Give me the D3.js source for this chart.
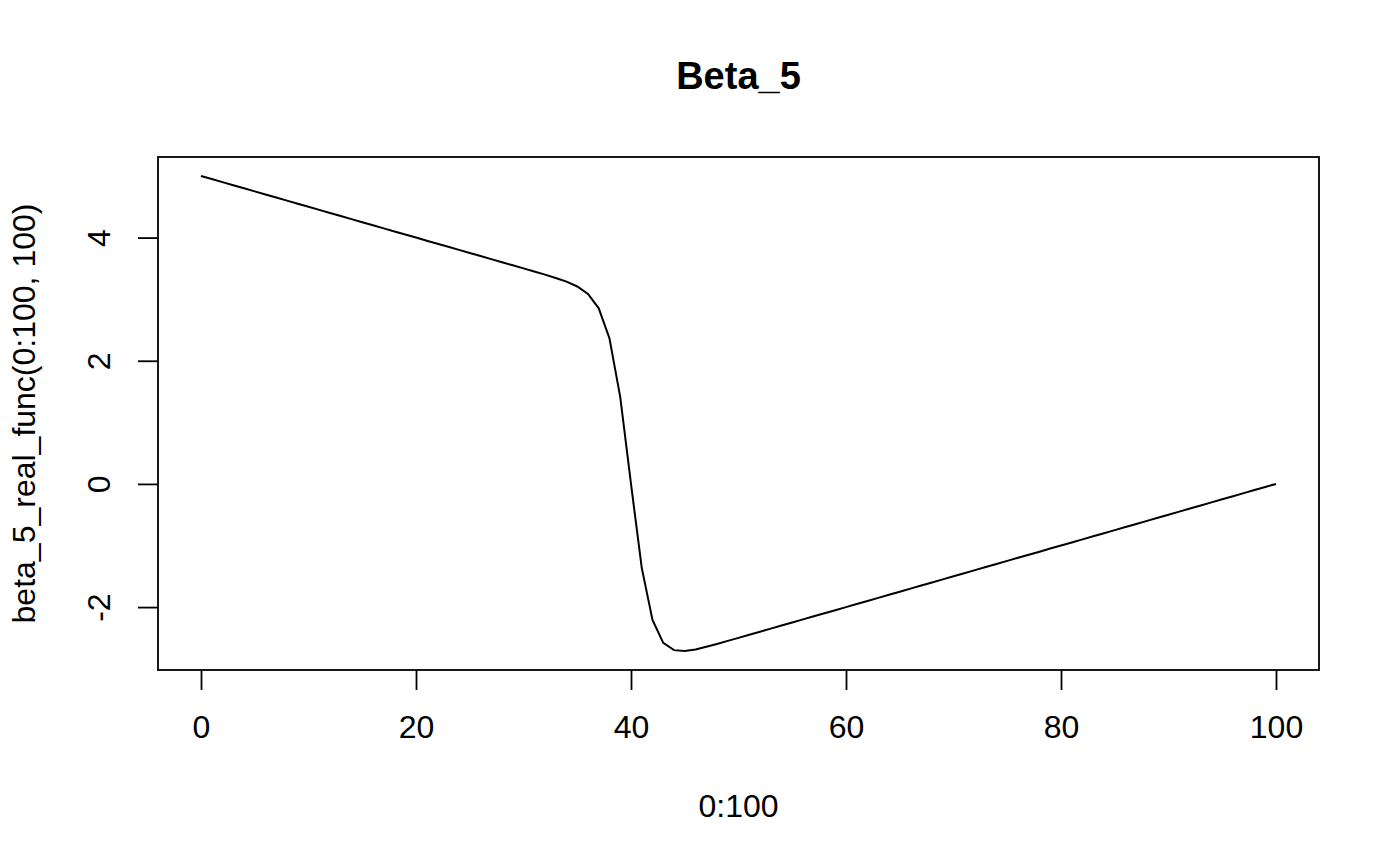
<!DOCTYPE html>
<html>
<head>
<meta charset="utf-8">
<script src="https://cdn.jsdelivr.net/npm/d3@7"></script>
<style>
  body { margin: 0; background: #fff; }
  svg text { font-family: "Liberation Sans", Arial, sans-serif; fill: #000; }
</style>
</head>
<body>
<div id="chart"></div>
<script>
//Chart Texts
let chartTitle = "Beta_5";
let xLabel = "0:100";
let yLabel = "beta_5_real_func(0:100, 100)";

//Tick Values of the Axes
let xTicks = [0, 20, 40, 60, 80, 100];
let yTicks = [-2, 0, 2, 4];

//Values of the Curve at x = 0, 1, ..., 100
let yValues = [
  5.00, 4.95, 4.90, 4.85, 4.80, 4.75, 4.70, 4.65, 4.60, 4.55,
  4.50, 4.45, 4.40, 4.35, 4.30, 4.25, 4.20, 4.15, 4.10, 4.05,
  4.00, 3.95, 3.90, 3.85, 3.80, 3.75, 3.70, 3.65, 3.60, 3.55,
  3.50, 3.449, 3.398, 3.344, 3.284, 3.206, 3.085, 2.851, 2.361, 1.410,
  0.000, -1.363, -2.209, -2.580, -2.699, -2.713, -2.687, -2.645, -2.598, -2.549,
  -2.500, -2.45, -2.40, -2.35, -2.30, -2.25, -2.20, -2.15, -2.10, -2.05,
  -2.00, -1.95, -1.90, -1.85, -1.80, -1.75, -1.70, -1.65, -1.60, -1.55,
  -1.50, -1.45, -1.40, -1.35, -1.30, -1.25, -1.20, -1.15, -1.10, -1.05,
  -1.00, -0.95, -0.90, -0.85, -0.80, -0.75, -0.70, -0.65, -0.60, -0.55,
  -0.50, -0.45, -0.40, -0.35, -0.30, -0.25, -0.20, -0.15, -0.10, -0.05,
  0.00
];
let xValues = yValues.map((d, i) => i);

//SVG Size and Plot Box
let svgWidth = 1400;
let svgHeight = 866;
let box = { left: 158, right: 1319, top: 157, bottom: 670 };

let svg = d3.select("#chart")
  .append("svg")
  .attr("width", svgWidth)
  .attr("height", svgHeight);

//Scales with the 4% Padding that R Adds
function padded(ext) {
  let pad = (ext[1] - ext[0]) * 0.04;
  return [ext[0] - pad, ext[1] + pad];
}
let xScale = d3.scaleLinear()
  .domain(padded(d3.extent(xValues)))
  .range([box.left, box.right]);
let yScale = d3.scaleLinear()
  .domain(padded(d3.extent(yValues)))
  .range([box.bottom, box.top]);

//Plot Box
svg.append("rect")
  .attr("x", box.left)
  .attr("y", box.top)
  .attr("width", box.right - box.left)
  .attr("height", box.bottom - box.top)
  .attr("fill", "none")
  .attr("stroke", "#000")
  .attr("stroke-width", 1.8);

//Bottom Axis
let xAxisG = svg.append("g")
  .attr("transform", `translate(0, ${box.bottom})`)
  .call(d3.axisBottom(xScale).tickValues(xTicks).tickSize(20).tickFormat(d => String(d)));
xAxisG.select(".domain").remove();
xAxisG.selectAll("line").attr("stroke-width", 1.8);
xAxisG.selectAll("text")
  .attr("y", 68)
  .attr("dy", 0)
  .style("font-size", "32px");

//Left Axis with Rotated Labels (plain hyphen for the minus, as R draws it)
let yAxisG = svg.append("g")
  .attr("transform", `translate(${box.left}, 0)`)
  .call(d3.axisLeft(yScale).tickValues(yTicks).tickSize(20).tickFormat(d => String(d)));
yAxisG.select(".domain").remove();
yAxisG.selectAll("line").attr("stroke-width", 1.8);
yAxisG.selectAll("text")
  .attr("x", 0)
  .attr("dy", 0)
  .attr("transform", "translate(-48, 0) rotate(-90)")
  .attr("text-anchor", "middle")
  .style("font-size", "32px");

//Curve
let line = d3.line()
  .x((d, i) => xScale(xValues[i]))
  .y(d => yScale(d));
svg.append("path")
  .datum(yValues)
  .attr("d", line)
  .attr("fill", "none")
  .attr("stroke", "#000")
  .attr("stroke-width", 2);

//Title and Axis Labels
svg.append("text")
  .attr("x", (box.left + box.right) / 2)
  .attr("y", 89)
  .attr("text-anchor", "middle")
  .style("font-size", "38px")
  .style("font-weight", "bold")
  .text(chartTitle);

svg.append("text")
  .attr("x", (box.left + box.right) / 2)
  .attr("y", 817)
  .attr("text-anchor", "middle")
  .style("font-size", "32px")
  .text(xLabel);

svg.append("text")
  .attr("transform", `translate(35, ${(box.top + box.bottom) / 2}) rotate(-90)`)
  .attr("text-anchor", "middle")
  .style("font-size", "32px")
  .text(yLabel);
</script>
</body>
</html>
